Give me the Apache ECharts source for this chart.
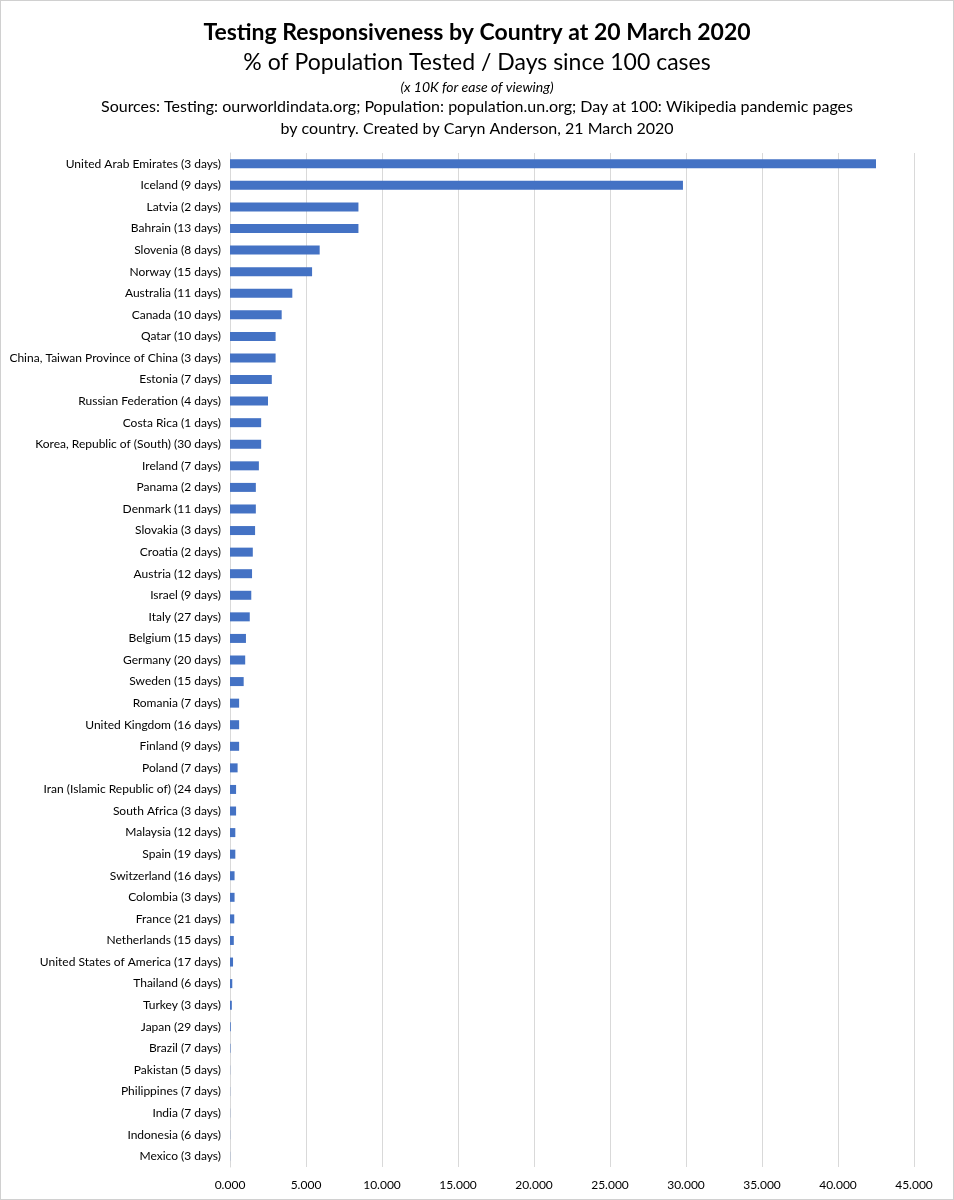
<!DOCTYPE html>
<html><head><meta charset="utf-8">
<script src="https://cdn.jsdelivr.net/npm/echarts@6/dist/echarts.min.js"></script>
<style>html,body{margin:0;padding:0;background:#fff}#c{width:954px;height:1200px;box-sizing:border-box;border:1px solid #d0d0d0}</style>
</head><body><div id="c"></div>
<script>
const countries = ["United Arab Emirates (3 days)","Iceland (9 days)","Latvia (2 days)","Bahrain (13 days)","Slovenia (8 days)","Norway (15 days)","Australia (11 days)","Canada (10 days)","Qatar (10 days)","China, Taiwan Province of China (3 days)","Estonia (7 days)","Russian Federation (4 days)","Costa Rica (1 days)","Korea, Republic of (South) (30 days)","Ireland (7 days)","Panama (2 days)","Denmark (11 days)","Slovakia (3 days)","Croatia (2 days)","Austria (12 days)","Israel (9 days)","Italy (27 days)","Belgium (15 days)","Germany (20 days)","Sweden (15 days)","Romania (7 days)","United Kingdom (16 days)","Finland (9 days)","Poland (7 days)","Iran (Islamic Republic of) (24 days)","South Africa (3 days)","Malaysia (12 days)","Spain (19 days)","Switzerland (16 days)","Colombia (3 days)","France (21 days)","Netherlands (15 days)","United States of America (17 days)","Thailand (6 days)","Turkey (3 days)","Japan (29 days)","Brazil (7 days)","Pakistan (5 days)","Philippines (7 days)","India (7 days)","Indonesia (6 days)","Mexico (3 days)"];
const values = [42.5,29.8,8.45,8.45,5.9,5.4,4.1,3.4,3.0,3.0,2.75,2.5,2.05,2.05,1.9,1.7,1.7,1.65,1.5,1.45,1.4,1.3,1.05,1.0,0.9,0.6,0.6,0.6,0.5,0.4,0.4,0.35,0.35,0.3,0.3,0.28,0.25,0.2,0.15,0.12,0.05,0.03,0.01,0.01,0.01,0.01,0.01];
const titleMain = "Testing Responsiveness by Country at 20 March 2020";
const titleSub = "% of Population Tested / Days since 100 cases";
const note = "(x 10K for ease of viewing)";
const sources = ["Sources: Testing: ourworldindata.org; Population: population.un.org; Day at 100: Wikipedia pandemic pages","by country. Created by Caryn Anderson, 21 March 2020"];
const F = "Lato, 'Open Sans', sans-serif";
const chart = echarts.init(document.getElementById('c'));
chart.setOption({
  animation:false,
  title:[
    {text:titleMain,left:'center',top:15,textStyle:{fontFamily:F,fontSize:23,fontWeight:'bold',color:'#000'}},
    {text:titleSub,left:'center',top:45,textStyle:{fontFamily:F,fontSize:23,fontWeight:'normal',color:'#000'}},
    {text:note,left:'center',top:74,textStyle:{fontFamily:F,fontSize:14,fontStyle:'italic',fontWeight:'normal',color:'#000'}},
    {text:sources[0],left:'center',top:93,textStyle:{fontFamily:F,fontSize:16,fontWeight:'normal',color:'#000'}},
    {text:sources[1],left:'center',top:115,textStyle:{fontFamily:F,fontSize:16,fontWeight:'normal',color:'#000'}}
  ],
  grid:{left:229,right:39,top:152,bottom:32,containLabel:false},
  xAxis:{type:'value',min:0,max:45,interval:5,
    axisLabel:{formatter:v=>v.toFixed(3),fontFamily:F,fontSize:12,color:'#000',margin:12},
    axisLine:{show:false},axisTick:{show:false},
    splitLine:{lineStyle:{color:'#d9d9d9',width:1}}},
  yAxis:{type:'category',data:countries,inverse:true,
    axisLabel:{fontFamily:F,fontSize:12,color:'#000',margin:9,interval:0},
    axisLine:{lineStyle:{color:'#d9d9d9'}},axisTick:{show:false}},
  series:[{type:'bar',data:values,barWidth:9,itemStyle:{color:'#4472c4'}}]
});
</script></body></html>
